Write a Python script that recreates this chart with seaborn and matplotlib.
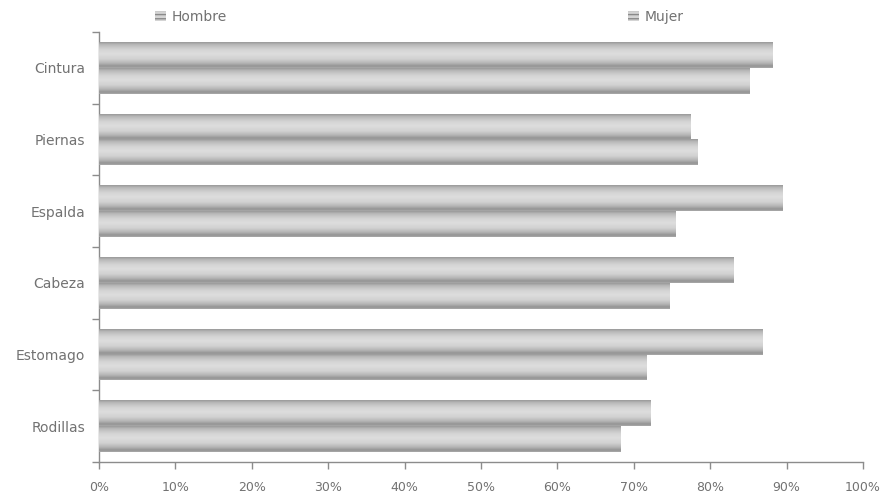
import numpy as np
import pandas as pd
import matplotlib
matplotlib.use("Agg")
import matplotlib.pyplot as plt
from matplotlib.colors import LinearSegmentedColormap
from matplotlib.patches import Patch
import seaborn as sns

categories = ["Cintura", "Piernas", "Espalda", "Cabeza", "Estomago", "Rodillas"]
hombre = [88.2, 77.4, 89.4, 83.0, 86.9, 72.2]
mujer = [85.2, 78.4, 75.4, 74.7, 71.6, 68.3]
series = ["Hombre", "Mujer"]
x_ticks = [0, 10, 20, 30, 40, 50, 60, 70, 80, 90, 100]

df = pd.DataFrame({
    "categoria": categories * 2,
    "sexo": [series[0]] * len(categories) + [series[1]] * len(categories),
    "valor": hombre + mujer,
})

sns.set_style("white")
plt.rcParams["font.family"] = ["DejaVu Sans"]

text_color = "#727272"
axis_color = "#8c8c8c"

fig = plt.figure(figsize=(8.94, 5.04), dpi=100)
ax = fig.add_axes([0.1107, 0.0833, 0.8546, 0.8532])

sns.barplot(data=df, y="categoria", x="valor", hue="sexo", order=categories,
            hue_order=series, orient="h", width=0.72,
            palette=["#cccccc", "#cccccc"], legend=False, ax=ax, linewidth=0,
            errorbar=None)

# cylinder-style shading across the height of every bar
shade = LinearSegmentedColormap.from_list("cyl", [
    (0.00, "#9a9a9a"), (0.10, "#bababa"), (0.28, "#d4d4d4"), (0.45, "#dddddd"),
    (0.65, "#d2d2d2"), (0.82, "#b4b4b4"), (0.93, "#939393"), (1.00, "#a8a8a8")])
profile = np.linspace(0, 1, 64).reshape(-1, 1)
for bar in list(ax.patches):
    x0, y0 = bar.get_x(), bar.get_y()
    w, h = bar.get_width(), bar.get_height()
    ax.imshow(profile, cmap=shade, aspect="auto", origin="upper",
              extent=[x0, x0 + w, y0 + h, y0], zorder=3, interpolation="bilinear")

ax.set_xlim(0, 100)
ax.set_ylim(len(categories) - 0.5, -0.5)
ax.set_xticks(x_ticks)
ax.set_xticklabels([f"{t}%" for t in x_ticks])
ax.set_yticks(range(len(categories)))
ax.set_yticklabels(categories)
ax.set_yticks(np.arange(-0.5, len(categories)), minor=True)
ax.set_xlabel("")
ax.set_ylabel("")

for side in ["top", "right"]:
    ax.spines[side].set_visible(False)
for side in ["left", "bottom"]:
    ax.spines[side].set_color(axis_color)
    ax.spines[side].set_linewidth(1.0)

ax.tick_params(axis="y", which="major", length=0, pad=10, labelsize=10,
               labelcolor=text_color)
ax.tick_params(axis="y", which="minor", length=5, width=1, color=axis_color,
               direction="out", left=True)
ax.tick_params(axis="x", which="major", length=5, width=1, color=axis_color,
               direction="out", bottom=True, pad=9, labelsize=9,
               labelcolor=text_color)

handles = [Patch(facecolor="#d4d4d4", edgecolor="#8a8a8a", hatch="----",
                 linewidth=0) for _ in series]
leg = fig.legend(handles, series, loc="upper left", bbox_to_anchor=(0.159, 1.005),
                 ncol=2, frameon=False, fontsize=10, handlelength=0.8,
                 handleheight=0.8, handletextpad=0.4, columnspacing=28.9,
                 labelcolor=text_color)

fig.savefig("out.png", dpi=100, facecolor="white")
